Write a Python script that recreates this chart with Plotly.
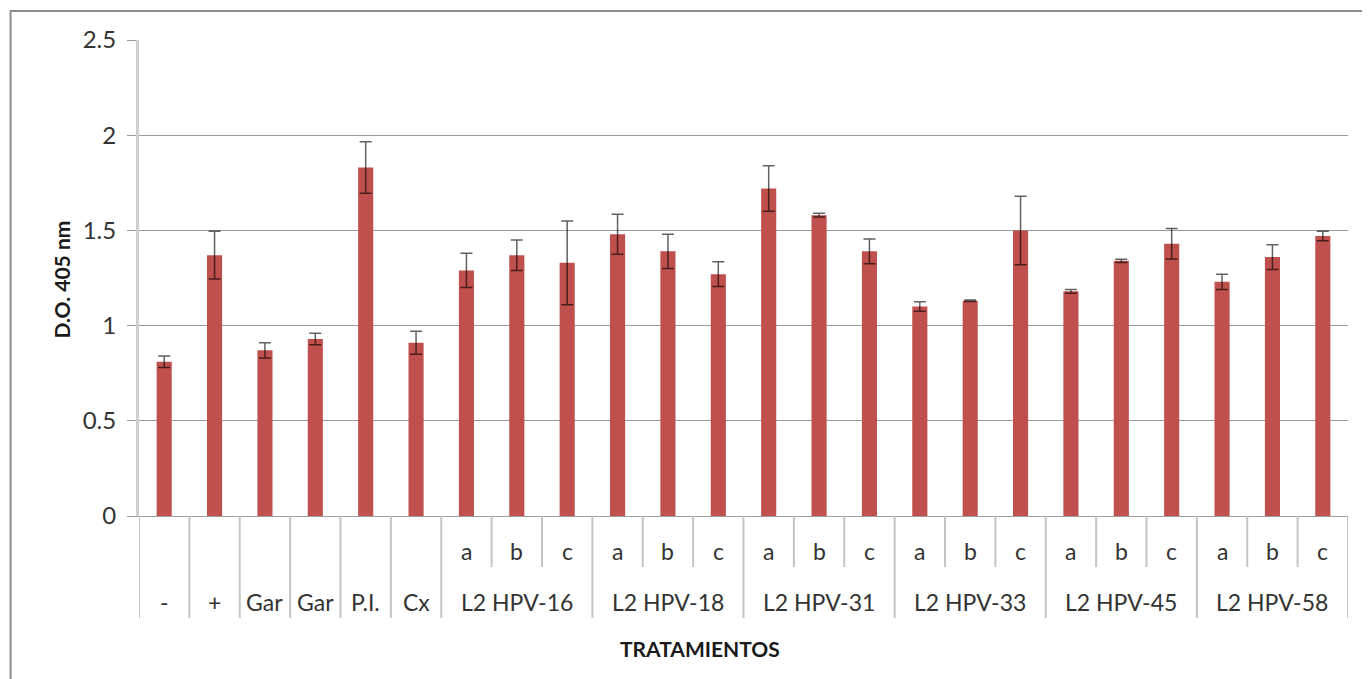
import plotly.graph_objects as go

# ---- data ----
single_labels = ["-", "+", "Gar", "Gar", "P.I.", "Cx"]
group_labels = ["L2 HPV-16", "L2 HPV-18", "L2 HPV-31", "L2 HPV-33", "L2 HPV-45", "L2 HPV-58"]
sub_labels = ["a", "b", "c"]

values = [0.81, 1.37, 0.87, 0.93, 1.83, 0.91,
          1.29, 1.37, 1.33,
          1.48, 1.39, 1.27,
          1.72, 1.58, 1.39,
          1.10, 1.13, 1.50,
          1.18, 1.34, 1.43,
          1.23, 1.36, 1.47]
errors = [0.03, 0.125, 0.04, 0.03, 0.135, 0.06,
          0.09, 0.08, 0.22,
          0.105, 0.09, 0.065,
          0.12, 0.01, 0.065,
          0.025, 0.004, 0.18,
          0.01, 0.008, 0.08,
          0.04, 0.065, 0.025]

y_ticks = [0, 0.5, 1, 1.5, 2, 2.5]
y_tick_text = ["0", "0.5", "1", "1.5", "2", "2.5"]

# ---- build category positions ----
n_single = len(single_labels)
n_sub = len(sub_labels)
n_total = n_single + len(group_labels) * n_sub
xs = list(range(n_total))

FONT = "Lato"
TXT = "#333333"
BAR = "#C0504D"

# page has an 8px body margin; work in page pixels and convert
OFF = 8
W, H = 1370 - OFF, 679 - OFF
P_LEFT, P_RIGHT, P_TOP, P_BOT = 138.5, 1348.3, 40, 516  # page pixels of plot area
plot_w = P_RIGHT - P_LEFT
plot_h = P_BOT - P_TOP

def py(pix):
    return (P_BOT - pix) / plot_h

def px(pix):
    return (pix - P_LEFT) / plot_w

fig = go.Figure()
fig.add_trace(go.Bar(
    x=xs, y=values, width=0.3,
    marker=dict(color=BAR, line=dict(width=0)),
    error_y=dict(type="data", array=errors, visible=True,
                 color="rgba(0,0,0,0.62)", thickness=1.5, width=6),
    showlegend=False,
))

shapes = []
annotations = []
DIV = "#c4c4c4"
full_bottom = py(618)
short_bottom = py(567)

lab_font = dict(family=FONT, size=23, color=TXT)

for i in range(n_single + 1):
    shapes.append(dict(type="line", xref="x", yref="paper", x0=i - 0.5, x1=i - 0.5,
                       y0=0, y1=full_bottom, line=dict(color=DIV, width=2)))
for g, name in enumerate(group_labels):
    start = n_single + g * n_sub
    end = start + n_sub
    shapes.append(dict(type="line", xref="x", yref="paper", x0=end - 0.5, x1=end - 0.5,
                       y0=0, y1=full_bottom, line=dict(color=DIV, width=2)))
    for k in range(1, n_sub):
        shapes.append(dict(type="line", xref="x", yref="paper", x0=start + k - 0.5, x1=start + k - 0.5,
                           y0=0, y1=short_bottom, line=dict(color=DIV, width=2)))
    for k, s in enumerate(sub_labels):
        annotations.append(dict(x=start + k, y=py(551), xref="x", yref="paper", text=s,
                                xanchor="center", yanchor="middle",
                                showarrow=False, font=lab_font))
    annotations.append(dict(x=(start + end - 1) / 2, y=py(602), xref="x", yref="paper", text=name,
                            xanchor="center", yanchor="middle",
                            showarrow=False, font=lab_font))

for i, s in enumerate(single_labels):
    annotations.append(dict(x=i, y=py(602), xref="x", yref="paper", text=s,
                            xanchor="center", yanchor="middle",
                            showarrow=False, font=lab_font))

annotations.append(dict(x=px(700), y=py(648), xref="paper", yref="paper", text="<b>TRATAMIENTOS</b>",
                        xanchor="center", yanchor="middle",
                        showarrow=False, font=dict(family=FONT, size=21, color="#1a1a1a")))
annotations.append(dict(x=px(60), y=py(280), xref="paper", yref="paper",
                        text="<b>D.O. 405 nm</b>", textangle=-90,
                        xanchor="center", yanchor="middle",
                        showarrow=False, font=dict(family=FONT, size=21, color="#1a1a1a")))

# outer chart border
shapes.append(dict(type="rect", xref="paper", yref="paper",
                   x0=px(10), x1=px(1390), y0=py(710), y1=py(11),
                   line=dict(color="#8c8c8c", width=2), fillcolor="rgba(0,0,0,0)", layer="below"))

fig.update_layout(
    width=W, height=H,
    margin=dict(l=P_LEFT - OFF, r=1370 - P_RIGHT, t=P_TOP - OFF, b=679 - P_BOT, autoexpand=False),
    paper_bgcolor="white", plot_bgcolor="white",
    xaxis=dict(range=[-0.5, n_total - 0.5], showticklabels=False, showgrid=False,
               zeroline=False, showline=True, linecolor="#a0a0a0", linewidth=1,
               ticks="", fixedrange=True),
    yaxis=dict(range=[0, 2.5], tickvals=y_ticks, ticktext=y_tick_text,
               showgrid=True, gridcolor="#9a9a9a", gridwidth=1,
               zeroline=False, showline=True, linecolor="#d0d0d0", linewidth=3,
               ticks="outside", ticklen=9, tickcolor="#9a9a9a", tickwidth=1,
               ticklabelstandoff=6,
               tickfont=dict(family=FONT, size=24, color=TXT), fixedrange=True),
    shapes=shapes,
    annotations=annotations,
)

fig.write_html("out.html")
